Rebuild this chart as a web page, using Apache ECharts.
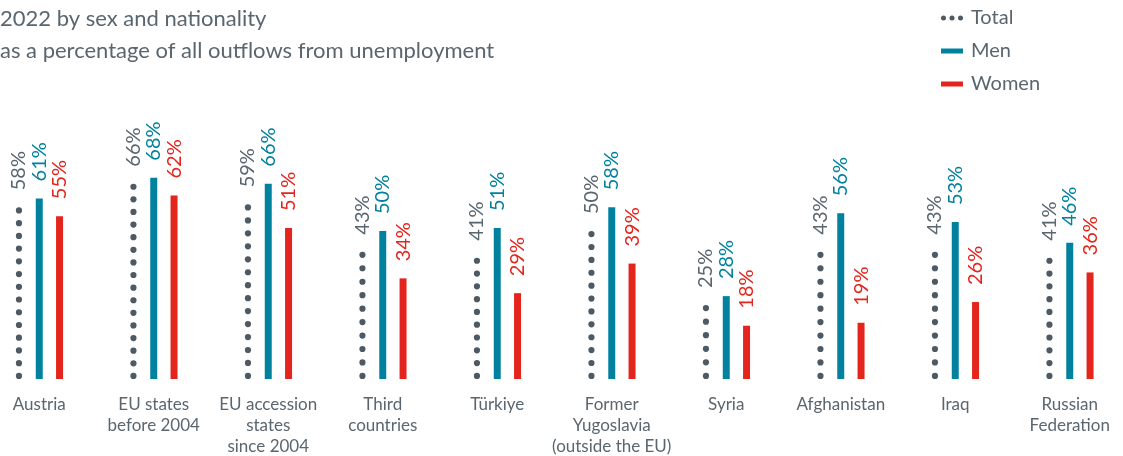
<!DOCTYPE html>
<html>
<head>
<meta charset="utf-8">
<script src="https://cdn.jsdelivr.net/npm/echarts@6/dist/echarts.min.js"></script>
<style>
  html, body { margin: 0; padding: 0; background: #fff; }
  #chart { width: 1123px; height: 456px; }
</style>
</head>
<body>
<div id="chart"></div>
<script>
// 类别
const categories = ['Austria', 'EU states\nbefore 2004', 'EU accession\nstates\nsince 2004', 'Third\ncountries', 'Türkiye',
    'Former\nYugoslavia\n(outside the EU)', 'Syria', 'Afghanistan', 'Iraq', 'Russian\nFederation'];
// 数值 (%)
const totalValues = [58, 66, 59, 43, 41, 50, 25, 43, 43, 41];
const menValues = [61, 68, 66, 50, 51, 58, 28, 56, 53, 46];
const womenValues = [55, 62, 51, 34, 29, 39, 18, 19, 26, 36];

const grey = '#5a666f';
const dotGrey = '#4d5963';
const teal = '#00829f';
const red = '#e3251d';
const font = 'Lato';

// 柱子宽度和间距
const barW = 7;
const barGap = 1.9;
const dotR = 3.1;
const dotPitch = 13;

var chartDom = document.getElementById('chart');
var myChart = echarts.init(chartDom);
var option;

function barLabel(color) {
    return {
        show: true,
        position: 'top',
        distance: 17,
        rotate: 90,
        align: 'left',
        verticalAlign: 'middle',
        formatter: '{c}%',
        color: color,
        fontSize: 20,
        fontFamily: font
    };
}

// 灰色圆点竖线 (Total)
function renderDots(params, api) {
    var base = api.coord([api.value(0), 0]);
    var top = api.coord([api.value(0), api.value(1)]);
    var x = base[0] - barW * (1 + barGap);
    var len = base[1] - top[1] - 2 * dotR;
    var gaps = Math.max(1, Math.round(len / dotPitch));
    var step = len / gaps;
    var children = [];
    for (var i = 0; i <= gaps; i++) {
        children.push({
            type: 'circle',
            shape: { cx: x, cy: base[1] - dotR - i * step, r: dotR },
            style: { fill: dotGrey }
        });
    }
    return { type: 'group', children: children };
}

option = {
    animation: false,
    title: {
        text: '2022 by sex and nationality\nas a percentage of all outflows from unemployment',
        left: 0,
        top: 3,
        padding: 0,
        textStyle: {
            color: grey,
            fontSize: 22,
            fontWeight: 'normal',
            fontFamily: font,
            lineHeight: 32
        }
    },
    legend: {
        orient: 'vertical',
        left: 941,
        top: 7,
        padding: 0,
        itemWidth: 22,
        itemHeight: 5,
        itemGap: 11,
        textStyle: {
            color: grey,
            fontSize: 20,
            fontFamily: font,
            lineHeight: 22,
            padding: [0, 0, 0, 3]
        },
        data: [
            {
                name: 'Total',
                icon: 'path://M0,2.5a2.5,2.5 0 1,0 5,0a2.5,2.5 0 1,0 -5,0M8.5,2.5a2.5,2.5 0 1,0 5,0a2.5,2.5 0 1,0 -5,0M17,2.5a2.5,2.5 0 1,0 5,0a2.5,2.5 0 1,0 -5,0Z',
                itemStyle: { color: dotGrey }
            },
            { name: 'Men', icon: 'rect' },
            { name: 'Women', icon: 'rect' }
        ]
    },
    grid: {
        left: -18,
        width: 1145,
        top: 83,
        bottom: 77,
        outerBoundsMode: 'none'
    },
    xAxis: {
        type: 'category',
        data: categories,
        axisLine: { show: false },
        axisTick: { show: false },
        axisLabel: {
            interval: 0,
            margin: 15,
            color: grey,
            fontSize: 17,
            fontFamily: font,
            lineHeight: 21,
            verticalAlign: 'top'
        }
    },
    yAxis: {
        type: 'value',
        min: 0,
        max: 100,
        show: false
    },
    series: [
        {
            // 占位 + 标签
            name: 'Total',
            type: 'pictorialBar',
            barWidth: barW,
            barGap: barGap * 100 + '%',
            symbol: 'rect',
            symbolSize: ['100%', '100%'],
            itemStyle: { color: 'rgba(0,0,0,0)' },
            label: barLabel(grey),
            data: totalValues
        },
        {
            name: 'Men',
            type: 'pictorialBar',
            barWidth: barW,
            barGap: barGap * 100 + '%',
            symbol: 'rect',
            symbolSize: ['100%', '100%'],
            itemStyle: { color: teal },
            label: barLabel(teal),
            data: menValues
        },
        {
            name: 'Women',
            type: 'pictorialBar',
            barWidth: barW,
            barGap: barGap * 100 + '%',
            symbol: 'rect',
            symbolSize: ['100%', '100%'],
            itemStyle: { color: red },
            label: barLabel(red),
            data: womenValues
        },
        {
            name: 'Total',
            type: 'custom',
            renderItem: renderDots,
            itemStyle: { color: dotGrey },
            encode: { x: 0, y: 1 },
            data: totalValues.map(function (v, i) { return [i, v]; }),
            z: 3
        }
    ]
};

option && myChart.setOption(option);
</script>
</body>
</html>
